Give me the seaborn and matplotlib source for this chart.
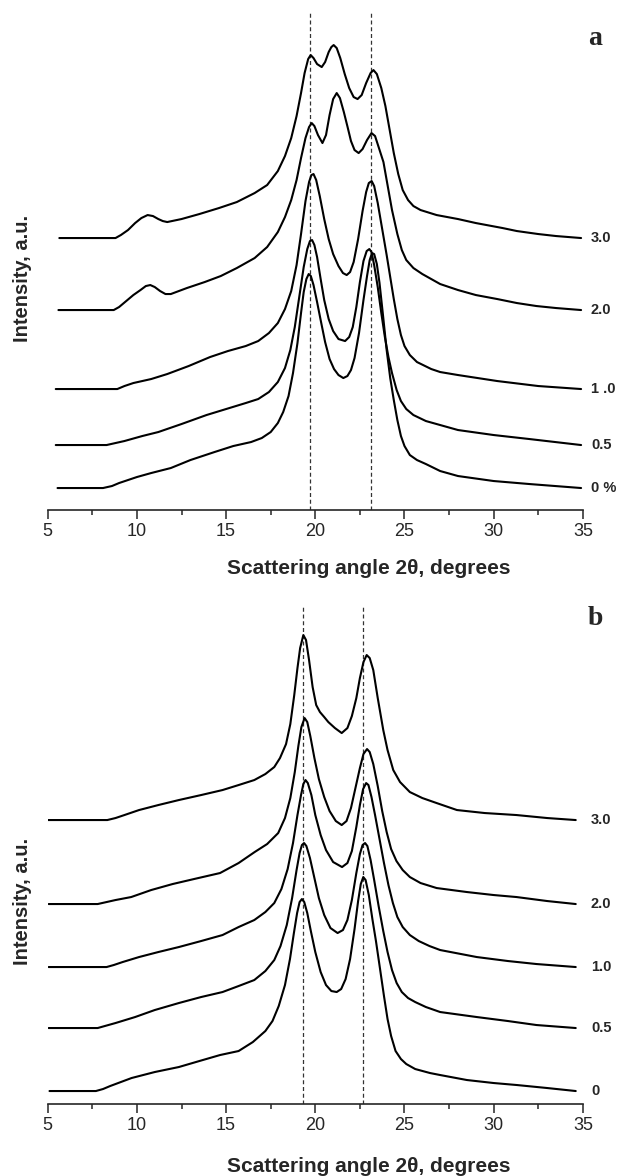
import numpy as np
import pandas as pd
import matplotlib
matplotlib.use('Agg')
import matplotlib.pyplot as plt
from matplotlib.ticker import MultipleLocator
import seaborn as sns

# ---------------- data (2theta in degrees, intensity in a.u. above each curve's baseline) ----------------
# panel a
names_a = ['0 %', '0.5', '1 .0', '2.0', '3.0']
offsets_a = [22, 65, 121, 200, 272]
peaks_a = [19.7, 23.15]

x_a0 = [5.55, 8.1, 8.6, 9.0, 9.5, 10.0, 10.8, 11.9, 13.0, 14.35, 15.4, 16.4, 17.0, 17.5, 17.9,
        18.2, 18.5, 18.75, 19.0, 19.2, 19.35, 19.5, 19.63, 19.75, 19.9, 20.1, 20.3, 20.55, 20.8, 21.05,
        21.3, 21.57, 21.8, 22.0, 22.2, 22.45, 22.7, 22.9, 23.05, 23.18, 23.3, 23.45, 23.6, 23.8, 24.0,
        24.2, 24.4, 24.6, 24.8, 25.0, 25.3, 25.7, 26.2, 27.0, 28.0, 30.0, 32.0, 34.9]
y_a0 = [0, 0, 2, 5, 8, 11, 15, 20, 28, 36, 42, 46, 50, 56, 65,
        76, 92, 115, 145, 175, 196, 209, 214, 212, 203, 186, 168, 146, 129, 119,
        113, 110, 112, 118, 130, 155, 188, 212, 228, 235, 234, 224, 205, 172, 138,
        110, 88, 68, 52, 42, 33, 28, 24, 17, 12, 7, 4, 0]

x_a05 = [5.45, 8.3, 8.8, 9.3, 10.3, 11.2, 12.5, 13.9, 15.0, 16.1, 16.8, 17.4, 17.9, 18.3, 18.6,
         18.85, 19.1, 19.35, 19.55, 19.7, 19.82, 19.95, 20.1, 20.3, 20.5, 20.75, 21.0, 21.3, 21.67, 21.9,
         22.1, 22.3, 22.5, 22.7, 22.88, 23.03, 23.15, 23.3, 23.5, 23.7, 23.9, 24.1, 24.3, 24.56, 24.8,
         25.1, 25.5, 26.2, 27.0, 28.0, 30.0, 32.0, 34.9]
y_a05 = [0, 0, 2, 4, 9, 13, 21, 30, 36, 42, 46, 53, 63, 77, 95,
         118, 148, 178, 196, 204, 205, 200, 188, 166, 145, 126, 114, 106, 104, 108,
         118, 138, 163, 184, 194, 196, 193, 180, 158, 132, 108, 88, 72, 55, 44,
         36, 30, 24, 20, 15, 10, 6, 0]

x_a1 = [5.45, 8.9, 9.3, 9.8, 10.8, 11.7, 12.9, 14.1, 15.1, 16.1, 16.8, 17.4, 17.9, 18.3, 18.65,
        18.95, 19.2, 19.45, 19.65, 19.78, 19.9, 20.05, 20.25, 20.5, 20.75, 21.0, 21.3, 21.55, 21.76, 21.95,
        22.15, 22.4, 22.65, 22.85, 23.0, 23.16, 23.3, 23.5, 23.75, 24.0, 24.2, 24.4, 24.6, 24.8, 25.0,
        25.3, 25.7, 26.5, 27.0, 28.0, 30.2, 32.5, 34.9]
y_a1 = [0, 0, 3, 6, 10, 15, 23, 32, 38, 43, 48, 56, 66, 80, 98,
        124, 155, 188, 207, 214, 215, 209, 193, 170, 150, 135, 123, 116, 114, 117,
        127, 150, 178, 197, 206, 208, 203, 186, 160, 134, 112, 90, 70, 54, 43,
        34, 27, 20, 17, 14, 8, 3, 0]

x_a2 = [5.6, 8.7, 9.0, 9.4, 9.8, 10.2, 10.5, 10.75, 11.0, 11.3, 11.6, 11.9, 12.8, 13.8, 14.7,
        15.6, 16.6, 17.3, 17.9, 18.3, 18.65, 18.95, 19.2, 19.45, 19.65, 19.8, 19.95, 20.15, 20.4, 20.6,
        20.8, 21.0, 21.2, 21.38, 21.6, 21.81, 22.0, 22.2, 22.43, 22.65, 22.9, 23.15, 23.35, 23.55, 23.82,
        24.05, 24.3, 24.6, 24.85, 25.1, 25.5, 26.0, 27.0, 28.0, 29.0, 30.2, 31.3, 32.4, 33.5, 34.9]
y_a2 = [0, 0, 3, 9, 15, 20, 24, 25, 23, 19, 16, 16, 22, 28, 34,
        42, 52, 63, 78, 93, 110, 130, 152, 172, 183, 187, 184, 175, 167, 175,
        195, 211, 217, 212, 198, 183, 169, 160, 157, 161, 170, 177, 174, 163, 148,
        125, 100, 76, 60, 50, 42, 36, 26, 20, 15, 11, 7, 4, 2, 0]

x_a3 = [5.65, 8.8, 9.1, 9.5, 9.9, 10.25, 10.6, 10.9, 11.2, 11.45, 11.7, 12.5, 13.5, 14.6, 15.6,
        16.6, 17.3, 17.9, 18.3, 18.65, 18.95, 19.2, 19.4, 19.6, 19.74, 19.9, 20.1, 20.36, 20.55, 20.75,
        20.9, 21.03, 21.2, 21.4, 21.65, 21.9, 22.15, 22.37, 22.6, 22.85, 23.1, 23.26, 23.45, 23.7, 23.93,
        24.15, 24.4, 24.65, 24.9, 25.2, 25.5, 25.9, 26.8, 28.0, 29.0, 30.5, 31.3, 32.5, 33.5, 34.9]
y_a3 = [0, 0, 3, 8, 15, 20, 23, 22, 19, 17, 16, 19, 24, 30, 36,
        45, 53, 67, 82, 100, 122, 145, 165, 179, 183, 180, 174, 171, 176, 186,
        191, 193, 190, 180, 164, 150, 141, 139, 143, 155, 165, 168, 164, 150, 132,
        110, 85, 64, 48, 38, 32, 28, 23, 19, 15, 10, 7, 4, 2, 0]

# panel b
names_b = ['0', '0.5', '1.0', '2.0', '3.0']
offsets_b = [13, 76, 137, 200, 284]
peaks_b = [19.3, 22.7]

x_b0 = [5.1, 7.7, 8.1, 8.5, 9.7, 11.0, 12.35, 13.5, 14.66, 15.7, 16.5, 17.2, 17.6, 17.95, 18.3,
        18.58, 18.8, 18.98, 19.12, 19.25, 19.38, 19.55, 19.75, 20.0, 20.3, 20.6, 20.9, 21.2, 21.45, 21.7,
        21.95, 22.2, 22.4, 22.55, 22.69, 22.82, 23.0, 23.2, 23.4, 23.63, 23.85, 24.05, 24.25, 24.5, 24.8,
        25.1, 25.6, 26.43, 27.0, 28.5, 30.0, 31.3, 33.0, 34.6]
y_b0 = [0, 0, 2, 5, 13, 19, 24, 30, 36, 40, 49, 60, 70, 85, 106,
        132, 158, 178, 189, 192, 189, 178, 160, 139, 119, 106, 100, 99, 102, 112,
        132, 162, 190, 207, 214, 211, 196, 172, 150, 122, 95, 72, 55, 40, 32,
        27, 22, 18, 16, 11, 8, 6, 3, 0]

x_b05 = [5.05, 7.8, 8.2, 8.8, 9.9, 11.0, 12.35, 13.6, 14.8, 15.7, 16.58, 17.2, 17.7, 18.05, 18.4,
         18.7, 18.95, 19.12, 19.25, 19.37, 19.5, 19.7, 19.95, 20.2, 20.5, 20.85, 21.25, 21.55, 21.8, 22.05,
         22.3, 22.5, 22.65, 22.79, 22.92, 23.1, 23.3, 23.55, 23.81, 24.05, 24.3, 24.56, 24.85, 25.2, 25.6,
         26.2, 27.0, 29.05, 30.8, 32.4, 34.6]
y_b05 = [0, 0, 2, 5, 11, 18, 25, 31, 36, 42, 48, 57, 68, 82, 103,
         130, 158, 175, 183, 185, 182, 170, 150, 130, 113, 100, 95, 98, 108, 128,
         155, 174, 183, 185, 182, 168, 148, 122, 97, 76, 58, 45, 36, 30, 26,
         21, 16, 11, 7, 3, 0]

x_b1 = [5.05, 8.3, 8.7, 9.2, 10.12, 11.2, 12.35, 13.6, 14.8, 15.7, 16.58, 17.2, 17.7, 18.1, 18.45,
        18.75, 19.0, 19.2, 19.33, 19.45, 19.58, 19.78, 20.0, 20.3, 20.6, 21.0, 21.5, 21.8, 22.05, 22.3,
        22.5, 22.68, 22.85, 22.98, 23.15, 23.35, 23.6, 23.85, 24.1, 24.35, 24.6, 24.9, 25.3, 25.8, 26.4,
        27.0, 29.05, 30.8, 32.4, 34.6]
y_b1 = [0, 0, 2, 5, 10, 15, 20, 26, 32, 40, 47, 55, 64, 78, 98,
        124, 152, 172, 183, 187, 184, 172, 152, 132, 117, 105, 100, 104, 116, 140,
        162, 178, 184, 182, 170, 152, 128, 104, 82, 64, 50, 40, 32, 26, 21,
        17, 10, 6, 3, 0]

x_b2 = [5.05, 7.8, 8.3, 8.8, 9.68, 10.8, 12.0, 13.2, 14.66, 15.7, 16.6, 17.3, 17.92, 18.3, 18.6,
        18.85, 19.05, 19.22, 19.4, 19.55, 19.72, 19.95, 20.2, 20.5, 20.8, 21.15, 21.48, 21.75, 22.0, 22.25,
        22.5, 22.7, 22.9, 23.05, 23.25, 23.5, 23.75, 24.0, 24.25, 24.55, 24.9, 25.3, 25.9, 26.8, 28.5,
        30.0, 31.28, 33.0, 34.6]
y_b2 = [0, 0, 2, 4, 7, 14, 20, 25, 31, 41, 52, 60, 71, 86, 106,
        132, 158, 177, 186, 182, 168, 146, 125, 107, 93, 83, 79, 83, 96, 116,
        136, 150, 155, 152, 140, 118, 93, 72, 55, 43, 34, 27, 21, 16, 12,
        9, 7, 3, 0]

x_b3 = [5.0, 8.34, 8.8, 9.3, 10.12, 11.2, 12.35, 13.6, 14.8, 15.7, 16.58, 17.2, 17.7, 18.02, 18.36,
        18.6, 18.82, 19.0, 19.15, 19.33, 19.48, 19.65, 19.85, 20.05, 20.26, 20.5, 20.73, 21.1, 21.48, 21.8,
        22.05, 22.3, 22.5, 22.7, 22.88, 23.05, 23.25, 23.5, 23.81, 24.05, 24.37, 24.75, 25.3, 26.0, 26.8,
        27.94, 29.5, 31.28, 33.0, 34.6]
y_b3 = [0, 0, 2, 5, 10, 15, 20, 25, 30, 35, 40, 46, 53, 62, 76,
        96, 125, 152, 172, 185, 180, 160, 133, 115, 108, 103, 98, 92, 87, 92,
        104, 122, 142, 158, 165, 162, 150, 122, 90, 70, 50, 38, 28, 22, 17,
        10, 7, 5, 2, 0]

XLABEL = 'Scattering angle 2\u03b8, degrees'
YLABEL = 'Intensity, a.u.'

# ---------------- style ----------------
sns.set_style('ticks')
plt.rcParams['font.family'] = ['Liberation Sans', 'DejaVu Sans']
plt.rcParams['axes.linewidth'] = 1.2
plt.rcParams['lines.solid_joinstyle'] = 'round'
plt.rcParams['lines.solid_capstyle'] = 'round'


def build_frame(xs, ys, offsets, names):
    rows = []
    for x, y, off, name in zip(xs, ys, offsets, names):
        for xi, yi in zip(x, y):
            rows.append((name, xi, yi + off))
    return pd.DataFrame(rows, columns=['sample', 'angle', 'intensity'])


def draw_panel(ax, df, offsets, names, peaks, letter, letter_y, xlab_y, ylab_y):
    sns.lineplot(data=df, x='angle', y='intensity', units='sample', estimator=None,
                 color='black', lw=1.5, sort=False, legend=False, ax=ax)

    # reference peak positions
    for p in peaks:
        ax.axvline(p, color='#333333', lw=0.9, ls=(0, (3.2, 2.2)), zorder=0)

    # sample labels at the right end of each trace
    for off, name in zip(offsets, names):
        ax.text(35.45, off, name, fontsize=10.5, fontweight='bold',
                ha='left', va='center', clip_on=False)

    ax.text(35.68, letter_y, letter, fontsize=20, fontweight='bold',
            family=['Liberation Serif', 'DejaVu Serif'], ha='center', va='center',
            clip_on=False)

    ax.set_xlim(5, 35)
    ax.set_ylim(0, 497)
    ax.set_yticks([])
    sns.despine(ax=ax, left=True)
    ax.xaxis.set_major_locator(MultipleLocator(5))
    ax.xaxis.set_minor_locator(MultipleLocator(2.5))
    ax.tick_params(axis='x', which='major', direction='out', length=6.5, width=1.1,
                   labelsize=13, pad=3)
    ax.tick_params(axis='x', which='minor', direction='out', length=3.6, width=1.1)

    ax.set_xlabel(XLABEL, fontsize=15, fontweight='bold')
    ax.xaxis.label.set_va('center')
    ax.xaxis.set_label_coords(0.6, xlab_y)
    ax.set_ylabel(YLABEL, fontsize=14.5, fontweight='bold')
    ax.yaxis.label.set_va('center')
    ax.yaxis.set_label_coords(-0.047, ylab_y)
    ax.set_facecolor('white')


df_a = build_frame([x_a0, x_a05, x_a1, x_a2, x_a3], [y_a0, y_a05, y_a1, y_a2, y_a3],
                   offsets_a, names_a)
df_b = build_frame([x_b0, x_b05, x_b1, x_b2, x_b3], [y_b0, y_b05, y_b1, y_b2, y_b3],
                   offsets_b, names_b)

fig = plt.figure(figsize=(6.23, 11.76), dpi=100)
fig.patch.set_facecolor('white')
ax_a = fig.add_axes([0.0766, 0.5663, 0.859, 0.4226])
ax_b = fig.add_axes([0.0766, 0.0612, 0.859, 0.4226])

draw_panel(ax_a, df_a, offsets_a, names_a, peaks_a, 'a', 472, -0.1167, 0.465)
draw_panel(ax_b, df_b, offsets_b, names_b, peaks_b, 'b', 486, -0.1247, 0.408)

fig.savefig('out.png', dpi=100, facecolor='white')
